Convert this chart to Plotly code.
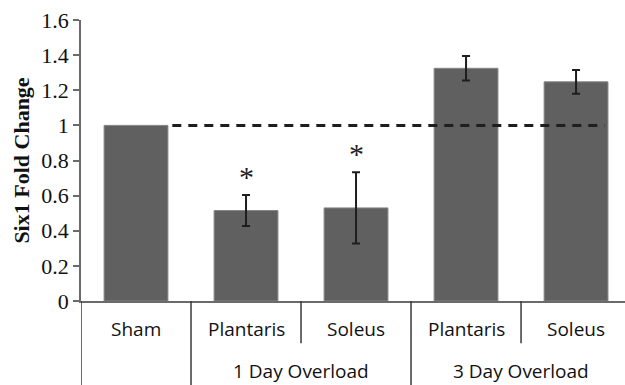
import plotly.graph_objects as go

# Six1 expression relative to sham
categories = ["Sham", "Plantaris", "Soleus", "Plantaris", "Soleus"]
groups = ["", "1 Day Overload", "3 Day Overload"]
fold_change = [1.0, 0.515, 0.53, 1.325, 1.248]
sem = [None, 0.088, 0.203, 0.07, 0.068]
significant = [False, True, True, False, False]
y_ticks = [0, 0.2, 0.4, 0.6, 0.8, 1, 1.2, 1.4, 1.6]
baseline = 1.0

x_pos = list(range(len(categories)))

fig = go.Figure()

fig.add_trace(go.Bar(
    x=x_pos,
    y=fold_change,
    width=0.58,
    marker=dict(color="#606060", line=dict(color="#858585", width=1)),
    showlegend=False,
))

# error bars only where an SEM exists
err_idx = [i for i, s in enumerate(sem) if s is not None]
fig.add_trace(go.Scatter(
    x=[x_pos[i] for i in err_idx],
    y=[fold_change[i] for i in err_idx],
    mode="markers",
    marker=dict(size=0, opacity=0),
    error_y=dict(type="data", array=[sem[i] for i in err_idx], visible=True,
                 color="#1e1e1e", thickness=2, width=4),
    showlegend=False,
    hoverinfo="skip",
))

# reference line at fold change = 1
fig.add_trace(go.Scatter(
    x=[0.33, 4.26],
    y=[baseline, baseline],
    mode="lines",
    line=dict(color="#1e1e1e", width=3, dash="9px,7px"),
    showlegend=False,
    hoverinfo="skip",
))

# significance markers
for i, sig in enumerate(significant):
    if sig:
        fig.add_annotation(
            x=x_pos[i], y=fold_change[i] + sem[i] + 0.105,
            xref="x", yref="y", text="*", showarrow=False,
            font=dict(family="Liberation Serif", size=30, color="#1e1e1e"),
            yanchor="middle",
        )

# category table below the axis
label_font = dict(family="Open Sans", size=19, color="#111111")
for i, c in enumerate(categories):
    fig.add_annotation(x=x_pos[i], y=-0.101, xref="x", yref="paper",
                       text=c, showarrow=False, font=label_font,
                       yanchor="middle")
fig.add_annotation(x=1.5, y=-0.25, xref="x", yref="paper",
                   text=groups[1], showarrow=False, font=label_font,
                   yanchor="middle")
fig.add_annotation(x=3.5, y=-0.25, xref="x", yref="paper",
                   text=groups[2], showarrow=False, font=label_font,
                   yanchor="middle")

sep_color = "#3a3a3a"
for xb, y_end in [(-0.5, -0.31), (0.5, -0.31), (1.5, -0.15),
                  (2.5, -0.31), (3.5, -0.15)]:
    fig.add_shape(type="line", xref="x", yref="paper",
                  x0=xb, x1=xb, y0=0, y1=y_end,
                  line=dict(color=sep_color, width=1.5))

fig.update_layout(
    width=625, height=385,
    margin=dict(l=81, r=0, t=20, b=84),
    plot_bgcolor="white", paper_bgcolor="white",
    xaxis=dict(range=[-0.5, 4.445], showticklabels=False, ticks="",
               showgrid=False, zeroline=False, showline=True,
               linecolor="#6a6a6a", linewidth=1.5),
    yaxis=dict(range=[0, 1.6], tickvals=y_ticks,
               ticktext=[f"{v:g}" for v in y_ticks],
               ticks="outside", ticklen=6, tickcolor="#6a6a6a",
               tickwidth=1.5, showgrid=False, zeroline=False,
               showline=True, linecolor="#6a6a6a", linewidth=1.5,
               tickfont=dict(family="Liberation Serif", size=22,
                             color="#111111"),
               title=dict(text="<b>Six1 Fold Change</b>", standoff=6,
                          font=dict(family="Liberation Serif", size=22,
                                    color="#111111"))),
)

fig.write_html("out.html")
